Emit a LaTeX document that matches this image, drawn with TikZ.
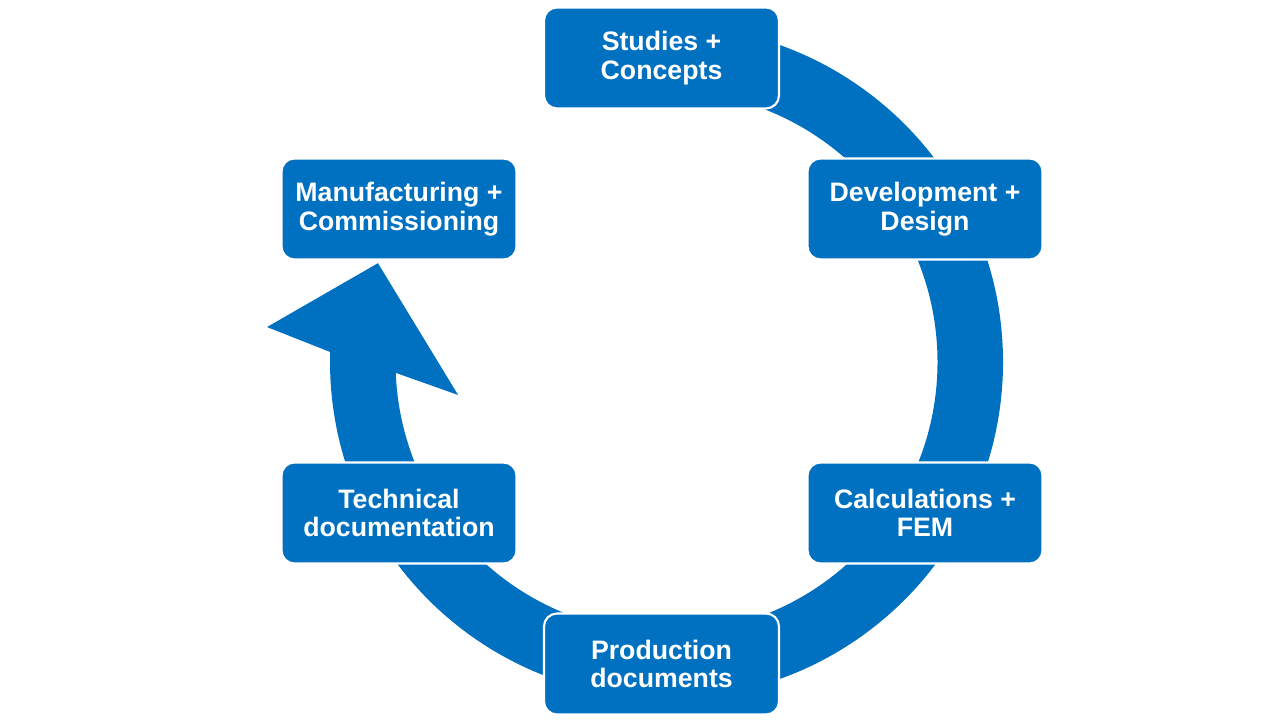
\documentclass[tikz,border=0pt]{standalone}
\usepackage{fontspec}
\setmainfont{Liberation Sans}
\definecolor{cycleblue}{RGB}{0,112,192}
\tikzset{
  stage/.style={draw=white, line width=0.6pt, fill=cycleblue, rounded corners=0.13cm,
    minimum width=2.35cm, minimum height=1.01cm, inner sep=0pt, align=center,
    text=white, font=\bfseries\fontsize{7.6}{8.1}\selectfont}
}
\begin{document}
\begin{tikzpicture}

\useasboundingbox (0,0) rectangle (12.8,7.2);

% Centre of the cycle
\coordinate (C) at (6.665,3.58);

% Ring arrow (clockwise, head at the upper left)
\begin{scope}[shift={(C)}]
\fill[cycleblue] (90:3.365) arc[start angle=90, end angle=-181.7, radius=3.365]
  -- (175:4.01) -- (161.1:3.05) -- (189:2.11) -- (-177.7:2.71)
  arc[start angle=-177.7, end angle=90, radius=2.71] -- cycle;
\end{scope}

% Stage boxes
\node[stage] (studies) at (6.615,6.62) {Studies +\\Concepts};
\node[stage] (devel)   at (9.25,5.11)  {Development +\\Design};
\node[stage] (calc)    at (9.25,2.07)  {Calculations +\\FEM};
\node[stage] (prod)    at (6.615,0.56) {Production\\documents};
\node[stage] (techdoc) at (3.99,2.07)  {Technical\\documentation};
\node[stage] (manuf)   at (3.99,5.11)  {Manufacturing +\\Commissioning};

\end{tikzpicture}
\end{document}
